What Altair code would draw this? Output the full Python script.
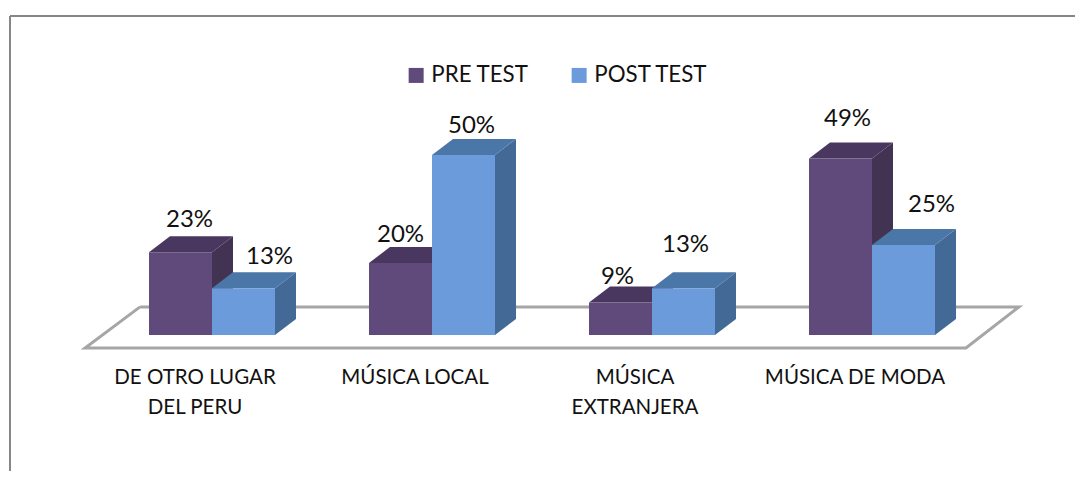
import altair as alt
import pandas as pd

categories = ["DE OTRO LUGAR\nDEL PERU", "MÚSICA LOCAL", "MÚSICA\nEXTRANJERA", "MÚSICA DE MODA"]
pre_test = [23, 20, 9, 49]
post_test = [13, 50, 13, 25]
series_names = ["PRE TEST", "POST TEST"]

# Layout (in data units of the two scales)
W, H = 1067, 463
PX_X, PX_Y = 220.0, 3.6
X0, Y0 = 204.0, 327.0
BAR = 63 / PX_X
DX, DY = 21 / PX_X, 16 / PX_Y
FONT = "Lato"
FRONT = ["#604a7b", "#6c9bdb"]
SIDE = ["#433353", "#436a97"]
TOP = ["#49375f", "#4a76a8"]
# manual label nudges: (dx in px, gap above bar top in px)
NUDGE_PRE = [(9, 32), (0, 28), (-3, 26), (7, 40)]
NUDGE_POST = [(26, 31), (8, 29), (2, 43), (28, 40)]

xs = alt.Scale(domain=[-X0 / PX_X, (W - X0) / PX_X], nice=False, zero=False)
ys = alt.Scale(domain=[(Y0 - H) / PX_Y, Y0 / PX_Y], nice=False, zero=False)
X = lambda f: alt.X(f, type="quantitative", scale=xs, axis=None)
Y = lambda f: alt.Y(f, type="quantitative", scale=ys, axis=None)


def faces(values, s):
    front, side, top = [], [], []
    for i, v in enumerate(values):
        a = i - BAR if s == 0 else i
        b = a + BAR
        front.append(dict(cat=i, a=a, b=b, v=v, base=0, series=series_names[s]))
        for k in (0, 1):
            side.append(dict(cat=i, x=b + k * DX, y=k * DY, y2=v + k * DY))
            top.append(dict(cat=i, y=v + k * DY, x=a + k * DX, x2=b + k * DX))
    return pd.DataFrame(front), pd.DataFrame(side), pd.DataFrame(top)


color = alt.Color(
    "series:N",
    scale=alt.Scale(domain=series_names, range=FRONT),
    legend=alt.Legend(
        title=None, orient="none", legendX=397, legendY=56, direction="horizontal",
        symbolType="square", symbolSize=225, symbolStrokeWidth=0, labelFont=FONT,
        labelFontSize=22.3, labelColor="#111111", columnPadding=39, labelOffset=4,
        symbolOpacity=1,
    ),
)

layers = []

# outer frame
layers.append(alt.Chart(pd.DataFrame({"a": [0]})).mark_rule(color="#868686", strokeWidth=2).encode(
    x=alt.value(2), y=alt.value(8), y2=alt.value(H)))
layers.append(alt.Chart(pd.DataFrame({"a": [0]})).mark_rule(color="#868686", strokeWidth=2).encode(
    y=alt.value(8), x=alt.value(2), x2=alt.value(W)))

# floor of the 3D chart
floor_x = [-0.327, 3.668, 3.427, -0.577, -0.327]
floor_y = [7.8, 7.8, -3.6, -3.6, 7.8]
floor = pd.DataFrame({"x": floor_x, "y": floor_y, "o": range(5)})
layers.append(alt.Chart(floor).mark_line(color="#a6a6a6", strokeWidth=3, strokeJoin="miter").encode(
    x=X("x"), y=Y("y"), order="o:Q"))

for s, values in enumerate([pre_test, post_test]):
    front, side, top = faces(values, s)
    layers.append(alt.Chart(side).mark_area(color=SIDE[s], orient="vertical").encode(
        x=X("x"), y=Y("y"), y2="y2", detail="cat:N"))
    layers.append(alt.Chart(top).mark_area(color=TOP[s], orient="horizontal").encode(
        y=Y("y"), x=X("x"), x2="x2", detail="cat:N"))
    layers.append(alt.Chart(front).mark_rect().encode(
        x=X("a"), x2="b", y=Y("base"), y2="v", color=color))

# value labels
rows = []
for s, (values, nudge) in enumerate([(pre_test, NUDGE_PRE), (post_test, NUDGE_POST)]):
    for i, v in enumerate(values):
        c = i - BAR / 2 if s == 0 else i + BAR / 2
        rows.append(dict(x=c + nudge[i][0] / PX_X, y=v + nudge[i][1] / PX_Y, t=f"{v}%"))
layers.append(alt.Chart(pd.DataFrame(rows)).mark_text(
    font=FONT, fontSize=24, color="#111111", baseline="middle", align="center"
).encode(x=X("x"), y=Y("y"), text="t:N"))

# category labels
cats = pd.DataFrame({"x": [i - 17 / PX_X for i in range(4)], "y": [-43 / PX_Y] * 4, "t": categories})
layers.append(alt.Chart(cats).mark_text(
    font=FONT, fontSize=20.5, color="#111111", baseline="middle", align="center",
    lineBreak="\n", lineHeight=30
).encode(x=X("x"), y=Y("y"), text="t:N"))

chart = alt.layer(*layers).properties(
    width=W, height=H, padding=0, background="white",
    autosize=alt.AutoSizeParams(type="none"),
).configure_view(stroke=None)

chart.save("out.html", embed_options={"renderer": "svg", "actions": False})
